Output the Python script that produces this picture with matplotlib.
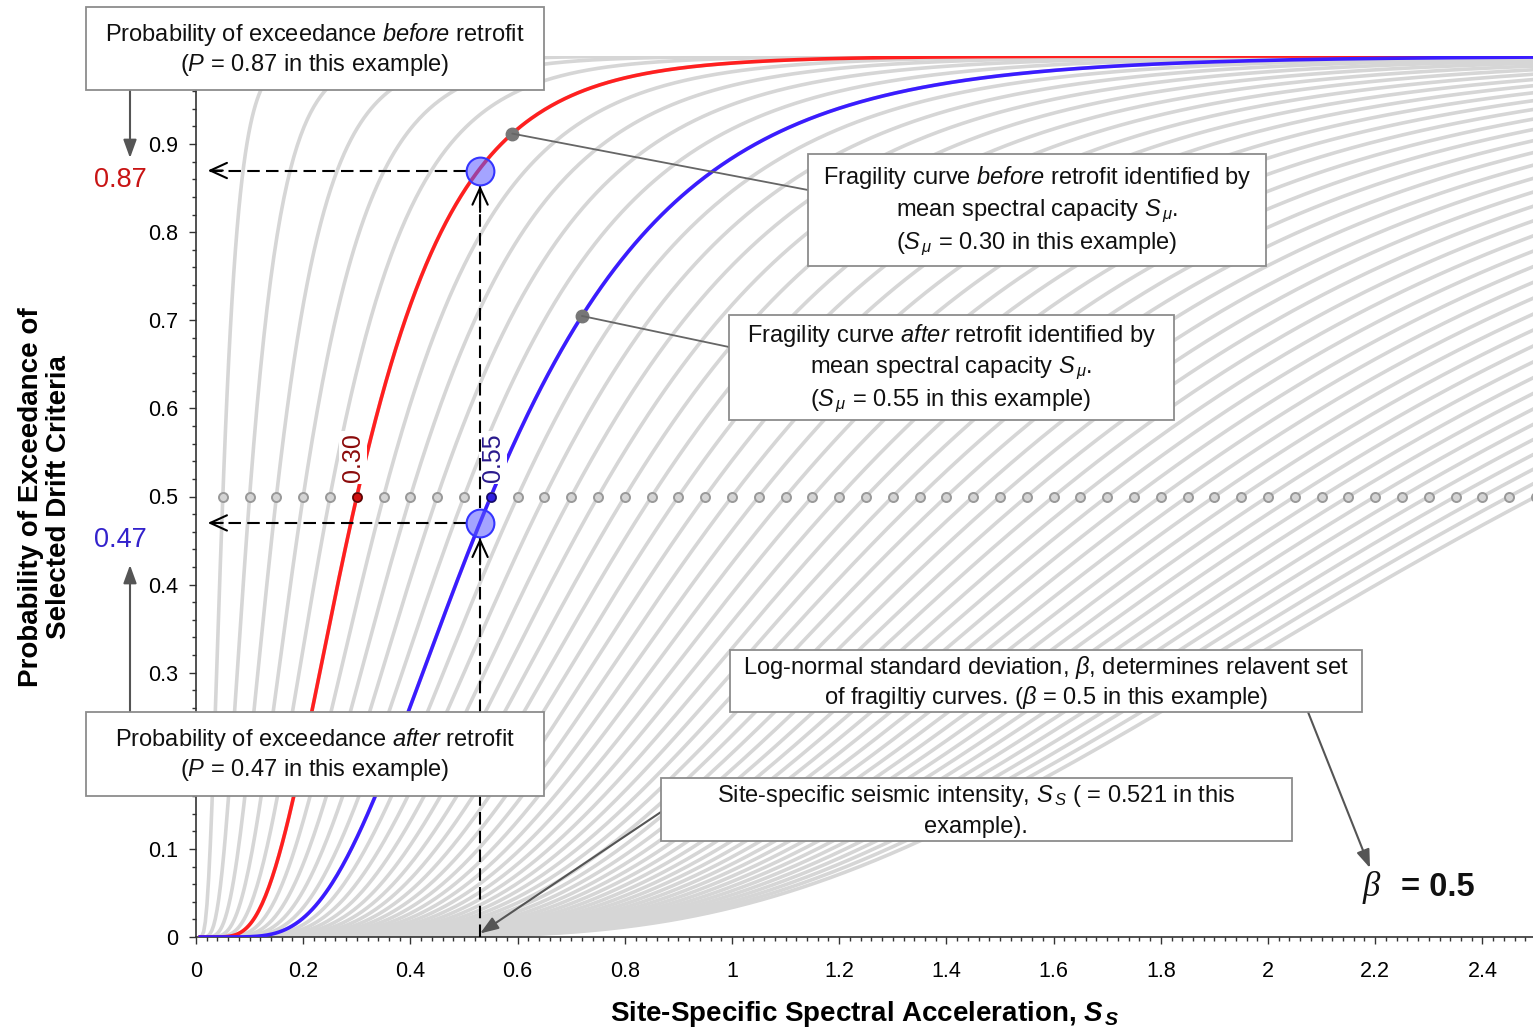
import math

import numpy as np
import matplotlib
matplotlib.use('Agg')
import matplotlib.pyplot as plt
from matplotlib.patches import Rectangle
from matplotlib.ticker import MultipleLocator, FormatStrFormatter

plt.rcParams['font.family'] = ['Liberation Sans', 'DejaVu Sans']
plt.rcParams['mathtext.fontset'] = 'custom'
plt.rcParams['mathtext.rm'] = 'Liberation Sans'
plt.rcParams['mathtext.it'] = 'Liberation Sans:italic'
plt.rcParams['mathtext.bf'] = 'Liberation Sans:bold:italic'

# medians of the grey fragility set (all share the same beta)
medians = [0.05, 0.10, 0.15, 0.20, 0.25, 0.30, 0.35, 0.40, 0.45, 0.50,
           0.55, 0.60, 0.65, 0.70, 0.75, 0.80, 0.85, 0.90, 0.95, 1.00,
           1.05, 1.10, 1.15, 1.20, 1.25, 1.30, 1.35, 1.40, 1.45, 1.50,
           1.55, 1.60, 1.65, 1.70, 1.75, 1.80, 1.85, 1.90, 1.95, 2.00,
           2.05, 2.10, 2.15, 2.20, 2.25, 2.30, 2.35, 2.40, 2.45, 2.50]
beta = 0.5
sm_before = 0.30
sm_after = 0.55
ss = 0.53          # where the dashed line sits on the x axis
p_before = 0.87
p_after = 0.47
lead_before_x = 0.59
lead_after_x = 0.72

x_ticks = [0, 0.2, 0.4, 0.6, 0.8, 1, 1.2, 1.4, 1.6, 1.8, 2, 2.2, 2.4]
y_ticks = [0, 0.1, 0.2, 0.3, 0.4, 0.5, 0.6, 0.7, 0.8, 0.9, 1]

W, H = 1533, 1029

erf = np.vectorize(math.erf)


def frag(x, median):
    z = np.log(np.asarray(x) / median) / beta
    return 0.5 * (1 + erf(z / math.sqrt(2)))


fig = plt.figure(figsize=(W / 100, H / 100), dpi=100)
ax = fig.add_axes([196 / W, 1 - 937 / H, (1536 - 196) / W, (937 - 56) / H], zorder=1)

xs = np.linspace(0.008, 2.5, 800)
for m in medians:
    ax.plot(xs, frag(xs, m), color='#d6d6d6', lw=2.6, zorder=1)
ax.plot(xs, frag(xs, sm_before), color='#ff1f1f', lw=2.6, zorder=3)
ax.plot(xs, frag(xs, sm_after), color='#3a1cff', lw=2.6, zorder=4)

ax.plot(medians, [0.5] * len(medians), 'o', ls='none', ms=6.5, mfc='#d4d4d4',
        mec='#999999', mew=1.4, zorder=5)
ax.plot(sm_before, 0.5, 'o', ms=6.5, mfc='#d01010', mec='#600000', mew=1.2, zorder=6)
ax.plot(sm_after, 0.5, 'o', ms=6.5, mfc='#3020e0', mec='#150a70', mew=1.2, zorder=6)

ax.text(sm_before - 0.008, 0.517, '0.30', rotation=90, ha='center', va='bottom',
        color='#8b0a0a', fontsize=18, zorder=6,
        bbox=dict(fc='white', ec='none', pad=1.5))
ax.text(sm_after + 0.004, 0.517, '0.55', rotation=90, ha='center', va='bottom',
        color='#2a1a8c', fontsize=18, zorder=6,
        bbox=dict(fc='white', ec='none', pad=1.5))

# dashed read-off lines
dash = dict(color='black', lw=1.5, ls=(0, (6, 3)), zorder=7)
rx, ry = 0.027, 0.017
ax.plot([ss - rx, 0.022], [p_before, p_before], **dash)
ax.plot([ss - rx, 0.022], [p_after, p_after], **dash)
ax.plot([ss, ss], [0, p_after - ry], **dash)
ax.plot([ss, ss], [p_after + ry, p_before - ry], **dash)

head = dict(arrowstyle='->,head_length=1.2,head_width=0.55', color='black', lw=1.5,
            mutation_scale=10, shrinkA=0, shrinkB=0)
for p in (p_before, p_after):
    ax.annotate('', xy=(0.022, p), xytext=(0.05, p), arrowprops=head, zorder=7)
ax.annotate('', xy=(ss, p_after - ry), xytext=(ss, p_after - ry - 0.03), arrowprops=head, zorder=7)
ax.annotate('', xy=(ss, p_before - ry), xytext=(ss, p_before - ry - 0.03), arrowprops=head, zorder=7)

for p in (p_before, p_after):
    ax.plot(ss, p, 'o', ms=20, mfc=(0.35, 0.35, 1.0, 0.55), mec='#3535ff', mew=1.5, zorder=8)

yb = float(frag(lead_before_x, sm_before))
ya = float(frag(lead_after_x, sm_after))
ax.plot(lead_before_x, yb, 'o', ms=9, color='#777777', zorder=9)
ax.plot(lead_after_x, ya, 'o', ms=9, color='#777777', zorder=9)

ax.set_xlim(0, 2.5)
ax.set_ylim(0, 1)
ax.set_xticks(x_ticks)
ax.set_yticks(y_ticks)
ax.xaxis.set_major_formatter(FormatStrFormatter('%g'))
ax.yaxis.set_major_formatter(FormatStrFormatter('%g'))
ax.xaxis.set_minor_locator(MultipleLocator(0.02))
ax.yaxis.set_minor_locator(MultipleLocator(0.02))
ax.tick_params(which='major', direction='out', length=5, width=1, color='#333333',
               labelsize=15.5)
ax.tick_params(axis='x', which='major', pad=12)
ax.tick_params(axis='y', which='major', pad=8)
ax.tick_params(which='minor', direction='out', length=3, width=1, color='#333333')
for side in ('top', 'right'):
    ax.spines[side].set_visible(False)
for side in ('left', 'bottom'):
    ax.spines[side].set_color('#333333')
    ax.spines[side].set_linewidth(1.2)

fig.text(865 / W, 1 - 1014 / H, 'Site-Specific Spectral Acceleration, $\\mathbf{S}_{\\,\\mathbf{S}}$',
         ha='center', va='center', fontsize=20, fontweight='bold')
fig.text(45 / W, 1 - 497 / H, 'Probability of Exceedance of\nSelected Drift Criteria',
         ha='center', va='center', rotation=90, fontsize=20, fontweight='bold',
         multialignment='center', linespacing=1.1)

# overlay in pixel coordinates for the call-out boxes
ov = fig.add_axes([0, 0, 1, 1], zorder=10)
ov.set_xlim(0, W)
ov.set_ylim(H, 0)
ov.axis('off')

boxes = [
    ((86, 7, 544, 90), 315, [41, 71],
     ['Probability of exceedance $\\mathit{before}$ retrofit',
      '($P$ = 0.87 in this example)']),
    ((808, 154, 1266, 266), 1037, [184, 216, 249],
     ['Fragility curve $\\mathit{before}$ retrofit identified by',
      'mean spectral capacity $S_{\\,\\mu}$.',
      '($S_{\\,\\mu}$ = 0.30 in this example)']),
    ((729, 315, 1174, 420), 951, [342, 373, 406],
     ['Fragility curve $\\mathit{after}$ retrofit identified by',
      'mean spectral capacity $S_{\\,\\mu}$.',
      '($S_{\\,\\mu}$ = 0.55 in this example)']),
    ((730, 650, 1362, 712), 1046, [674, 704],
     ['Log-normal standard deviation, $\\beta$, determines relavent set',
      'of fragiltiy curves. ($\\beta$ = 0.5 in this example)']),
    ((661, 778, 1292, 841), 976, [802, 833],
     ['Site-specific seismic intensity, $S_{\\,S}$ ( = 0.521 in this',
      'example).']),
    ((86, 712, 544, 796), 315, [746, 776],
     ['Probability of exceedance $\\mathit{after}$ retrofit',
      '($P$ = 0.47 in this example)']),
]

# arrows and leader lines first so boxes sit on top of their ends
arrow = dict(arrowstyle='-|>,head_length=1.1,head_width=0.4', color='#555555', lw=1.5,
             mutation_scale=10, shrinkA=0, shrinkB=0)
ov.annotate('', xy=(130, 158), xytext=(130, 90), arrowprops=arrow)
ov.annotate('', xy=(130, 565), xytext=(130, 712), arrowprops=arrow)
ov.annotate('', xy=(1370, 868), xytext=(1308, 712), arrowprops=arrow)
ov.annotate('', xy=(ss, 0.004), xycoords=ax.transData, xytext=(661, 812),
            textcoords='data', arrowprops=arrow)
leader = dict(arrowstyle='-', color='#666666', lw=1.3, shrinkA=0, shrinkB=0)
ov.annotate('', xy=(lead_before_x, yb), xycoords=ax.transData, xytext=(808, 190),
            textcoords='data', arrowprops=leader)
ov.annotate('', xy=(lead_after_x, ya), xycoords=ax.transData, xytext=(729, 347),
            textcoords='data', arrowprops=leader)

for (x0, y0, x1, y1), cx, bases, lines in boxes:
    ov.add_patch(Rectangle((x0, y0), x1 - x0, y1 - y0, fc='white', ec='#8c8c8c', lw=1.3,
                           zorder=3))
    for yl, s in zip(bases, lines):
        ov.text(cx, yl, s, ha='center', va='baseline', fontsize=17, color='#111111', zorder=4)

ov.text(120, 180, '0.87', ha='center', va='center', fontsize=19.5, color='#c81414')
ov.text(120, 540, '0.47', ha='center', va='center', fontsize=19.5, color='#3322cc')

ov.text(1371, 887, '\u03b2', ha='center', va='center', fontsize=25, style='italic',
        family='Liberation Serif', color='#111111')
ov.text(1401, 887, '= 0.5', ha='left', va='center', fontsize=23.5, fontweight='bold',
        color='#111111')

fig.savefig('out.png', dpi=100)
